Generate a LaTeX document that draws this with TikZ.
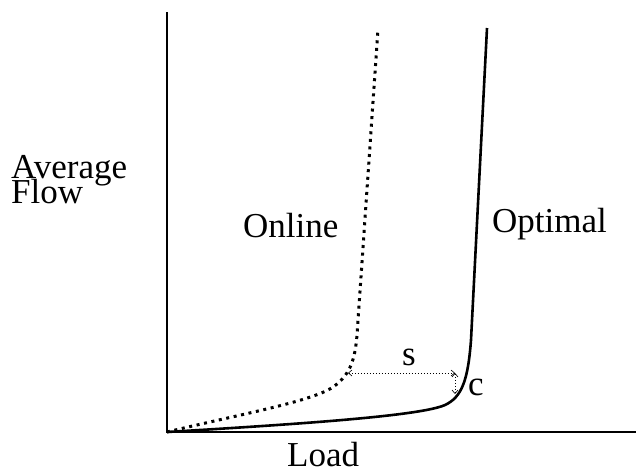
\documentclass[tikz,border=0pt]{standalone}
\usepackage{fontspec}
\setmainfont{Liberation Serif}
\usetikzlibrary{arrows.meta}
\begin{document}
\begin{tikzpicture}[x=1pt,y=-1pt,
  lbl/.style={inner sep=0pt,anchor=base west,font=\fontsize{35}{35}\selectfont},
  axis/.style={line width=2.6pt},
  optcurve/.style={line width=2.6pt},
  onlcurve/.style={line width=3pt,dash pattern=on 3pt off 4.6pt},
  meas/.style={line width=0.6pt,dash pattern=on 1pt off 2pt,{Straight Barb[length=3.5pt,width=6pt]}-{Straight Barb[length=3.5pt,width=6pt]}}]
\useasboundingbox (0,0) rectangle (636,472);
\coordinate (O) at (167,432);
\coordinate (ytop) at (167,12);
\coordinate (xend) at (636,432);
\draw[axis] (ytop) -- (O) -- (xend);
% optimal
\draw[optcurve] (O) .. controls (300,424) and (420,416) .. (445,405)
  .. controls (462,397) and (468,380) .. (471,340) -- (487,28);
% online
\draw[onlcurve] (O) .. controls (250,412) and (320,400) .. (337,384)
  .. controls (350,373) and (355,360) .. (357,335) -- (378,29);
% measures
\coordinate (s1) at (348,373);
\coordinate (s2) at (455,373);
\coordinate (c2) at (455,394);
\draw[meas] (s1) -- (s2);
\draw[meas] (s2) -- (c2);
% labels
\node[lbl] (avg) at (11,178) {Average};
\node[lbl] (flow) at (11,203) {Flow};
\node[lbl] (onl) at (243,237) {Online};
\node[lbl] (opt) at (492,232) {Optimal};
\node[lbl] (load) at (287,466) {Load};
\node[lbl] (s) at (402,365) {s};
\node[lbl] (c) at (468,395) {c};
\end{tikzpicture}
\end{document}
